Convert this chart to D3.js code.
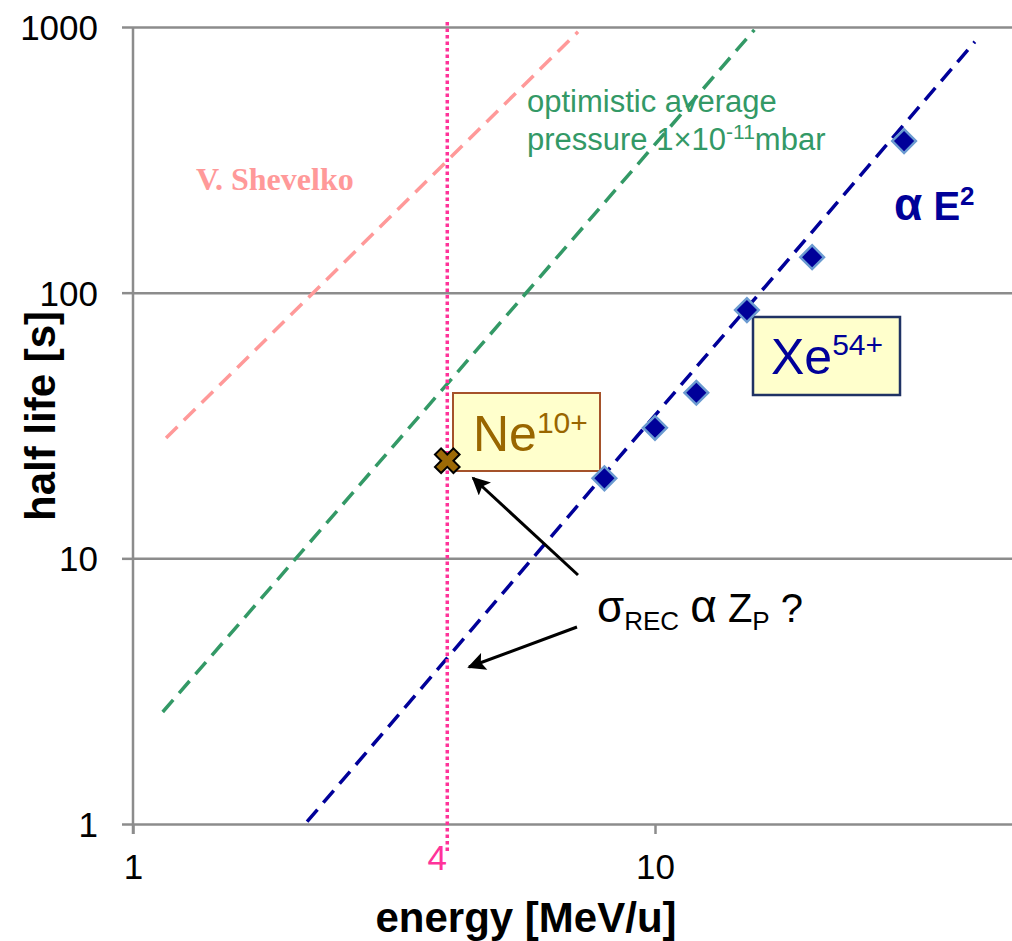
<!DOCTYPE html>
<html>
<head>
<meta charset="utf-8">
<script src="https://cdn.jsdelivr.net/npm/d3@7"></script>
<style>
  html, body { margin: 0; padding: 0; background: #fff; }
  svg { display: block; font-family: "Liberation Sans", Arial, sans-serif; }
</style>
</head>
<body>
<svg id="chart" width="1012" height="941"></svg>
<script>
// Xe54+ measured half lives vs beam energy
const energyXe = [8, 10, 12, 15, 20, 30];
const halfLifeXe = [20, 31, 42, 86, 136, 372];

// Ne10+ measurement
const energyNe = [4];
const halfLifeNe = [23.3];

// reference energy marker
const refEnergy = 4;

// dashed trend lines: [energy, half life] end points
const lineE2 = [[2.155, 1.02], [41.0, 880]];
const lineOptimistic = [[1.14, 2.64], [15.5, 976]];
const lineShevelko = [[1.157, 28.4], [7.12, 959]];

// tick values
const xTicks = [1, 10];
const yTicks = [1, 10, 100, 1000];

const svg = d3.select("#chart");
const xLeft = 133, xTen = 655, xRight = 1012;
const yTop = 27, yBottom = 824;

const x = d3.scaleLog().domain([1, 10]).range([xLeft, xTen]);
const y = d3.scaleLog().domain([1, 1000]).range([yBottom, yTop]);

const axisColor = "#8c8c8c";
const sans = "'Liberation Sans', Arial, sans-serif";

// horizontal grid (also forms the x axis line at 1)
const grid = svg.append("g")
  .attr("transform", `translate(${xLeft},0)`)
  .call(d3.axisLeft(y).tickValues(yTicks).tickSize(-(xRight - xLeft)).tickFormat(""));
grid.select(".domain").remove();
grid.selectAll("line").attr("stroke", axisColor).attr("stroke-width", 2.5);

// y axis
const yAxis = svg.append("g")
  .attr("transform", `translate(${xLeft},0)`)
  .call(d3.axisLeft(y).tickValues(yTicks).tickSize(11).tickPadding(24)
    .tickFormat(d3.format("d")));
yAxis.select(".domain").remove();
yAxis.selectAll("line").attr("stroke", axisColor).attr("stroke-width", 2.5);
yAxis.selectAll("text")
  .attr("font-family", sans)
  .attr("font-size", 35).attr("fill", "#000").attr("dy", "0.36em");

svg.append("line")
  .attr("x1", xLeft).attr("x2", xLeft)
  .attr("y1", yTop).attr("y2", yBottom + 10)
  .attr("stroke", axisColor).attr("stroke-width", 2.5);

// x axis
const xAxis = svg.append("g")
  .attr("transform", `translate(0,${yBottom})`)
  .call(d3.axisBottom(x).tickValues(xTicks).tickSize(10).tickPadding(20)
    .tickFormat(d3.format("d")));
xAxis.select(".domain").remove();
xAxis.selectAll("line").attr("stroke", axisColor).attr("stroke-width", 2.5);
xAxis.selectAll("text")
  .attr("font-family", sans)
  .attr("font-size", 35).attr("fill", "#000");

// axis titles
svg.append("text")
  .attr("x", 526).attr("y", 932)
  .attr("text-anchor", "middle")
  .attr("font-size", 42).attr("font-weight", "bold")
  .text("energy [MeV/u]");

svg.append("text")
  .attr("transform", "translate(55,416) rotate(-90)")
  .attr("text-anchor", "middle")
  .attr("font-size", 42).attr("font-weight", "bold")
  .text("half life [s]");

// dashed trend lines
const line = d3.line().x(d => x(d[0])).y(d => y(d[1]));
svg.append("path").datum(lineShevelko).attr("d", line)
  .attr("fill", "none").attr("stroke", "#ff9999").attr("stroke-width", 3.5)
  .attr("stroke-dasharray", "16,9");
svg.append("path").datum(lineOptimistic).attr("d", line)
  .attr("fill", "none").attr("stroke", "#339966").attr("stroke-width", 3.5)
  .attr("stroke-dasharray", "16,9");
svg.append("path").datum(lineE2).attr("d", line)
  .attr("fill", "none").attr("stroke", "#000099").attr("stroke-width", 3.5)
  .attr("stroke-dasharray", "16,9");

// reference energy line
svg.append("line")
  .attr("x1", x(refEnergy)).attr("x2", x(refEnergy))
  .attr("y1", 22).attr("y2", 852)
  .attr("stroke", "#ff3399").attr("stroke-width", 3.5)
  .attr("stroke-dasharray", "3.5,3");
svg.append("text")
  .attr("x", x(refEnergy) - 10).attr("y", 870)
  .attr("text-anchor", "middle")
  .attr("font-size", 35).attr("fill", "#ff3399")
  .text(refEnergy);

// line annotations
svg.append("text").attr("font-size", 31).attr("fill", "#339966")
  .attr("x", 527).attr("y", 112).text("optimistic average");
const g2 = svg.append("text").attr("font-size", 31).attr("fill", "#339966")
  .attr("x", 527).attr("y", 150);
g2.append("tspan").text("pressure 1×10");
g2.append("tspan").attr("font-size", 21).attr("dy", -11).text("-11");
g2.append("tspan").attr("dy", 11).text("mbar");

svg.append("text")
  .attr("x", 196).attr("y", 190)
  .style("font-family", "'Liberation Serif', 'Times New Roman', serif")
  .attr("font-weight", "bold").attr("font-size", 32).attr("fill", "#ff9999")
  .text("V. Shevelko");

const e2 = svg.append("text")
  .attr("x", 894).attr("y", 220)
  .attr("font-size", 40).attr("font-weight", "bold").attr("fill", "#000099");
e2.append("tspan").attr("font-size", 46).text("α");
e2.append("tspan").text(" E");
e2.append("tspan").attr("font-size", 26).attr("dy", -15).text("2");

// label boxes
svg.append("rect")
  .attr("x", 453).attr("y", 393).attr("width", 147).attr("height", 78)
  .attr("fill", "#ffffcc").attr("stroke", "#a5522a").attr("stroke-width", 2);
const ne = svg.append("text")
  .attr("x", 473).attr("y", 451)
  .attr("font-size", 50).attr("fill", "#996600");
ne.append("tspan").text("Ne");
ne.append("tspan").attr("font-size", 30).attr("dy", -18).text("10+");

svg.append("rect")
  .attr("x", 753).attr("y", 317).attr("width", 147).attr("height", 78)
  .attr("fill", "#ffffcc").attr("stroke", "#1f3264").attr("stroke-width", 2.5);
const xe = svg.append("text")
  .attr("x", 771).attr("y", 374)
  .attr("font-size", 50).attr("fill", "#000099");
xe.append("tspan").text("Xe");
xe.append("tspan").attr("font-size", 30).attr("dy", -19).text("54+");

// Xe data points
svg.append("g").selectAll("path")
  .data(energyXe.map((e, i) => [e, halfLifeXe[i]]))
  .join("path")
  .attr("transform", d => `translate(${x(d[0])},${y(d[1])}) rotate(45)`)
  .attr("d", d3.symbol(d3.symbolSquare, 280)())
  .attr("fill", "#000099").attr("stroke", "#6b9bd1").attr("stroke-width", 2.5);

// Ne data point
svg.append("g").selectAll("path")
  .data(energyNe.map((e, i) => [e, halfLifeNe[i]]))
  .join("path")
  .attr("transform", d => `translate(${x(d[0])},${y(d[1])}) rotate(45)`)
  .attr("d", d3.symbol(d3.symbolCross, 380)())
  .attr("fill", "#9c6a06").attr("stroke", "#000").attr("stroke-width", 2);

// arrows and question
const defs = svg.append("defs");
defs.append("marker")
  .attr("id", "arrowhead").attr("viewBox", "0 0 10 10")
  .attr("refX", 9).attr("refY", 5)
  .attr("markerWidth", 6.5).attr("markerHeight", 6)
  .attr("orient", "auto").attr("markerUnits", "strokeWidth")
  .append("path").attr("d", "M0,0 L10,5 L0,10 L2,5 Z").attr("fill", "#000");

svg.append("line")
  .attr("x1", 578).attr("y1", 575).attr("x2", 473).attr("y2", 478)
  .attr("stroke", "#000").attr("stroke-width", 3).attr("marker-end", "url(#arrowhead)");
svg.append("line")
  .attr("x1", 577).attr("y1", 627).attr("x2", 469).attr("y2", 667)
  .attr("stroke", "#000").attr("stroke-width", 3).attr("marker-end", "url(#arrowhead)");

const q = svg.append("text").attr("x", 597).attr("y", 622)
  .attr("font-size", 40).attr("fill", "#000");
q.append("tspan").attr("font-size", 44).text("σ");
q.append("tspan").attr("font-size", 26).attr("dy", 8).text("REC");
q.append("tspan").attr("dy", -8).text(" ");
q.append("tspan").attr("font-size", 46).text("α");
q.append("tspan").text(" Z");
q.append("tspan").attr("font-size", 26).attr("dy", 8).text("P");
q.append("tspan").attr("dy", -8).text(" ?");
</script>
</body>
</html>
